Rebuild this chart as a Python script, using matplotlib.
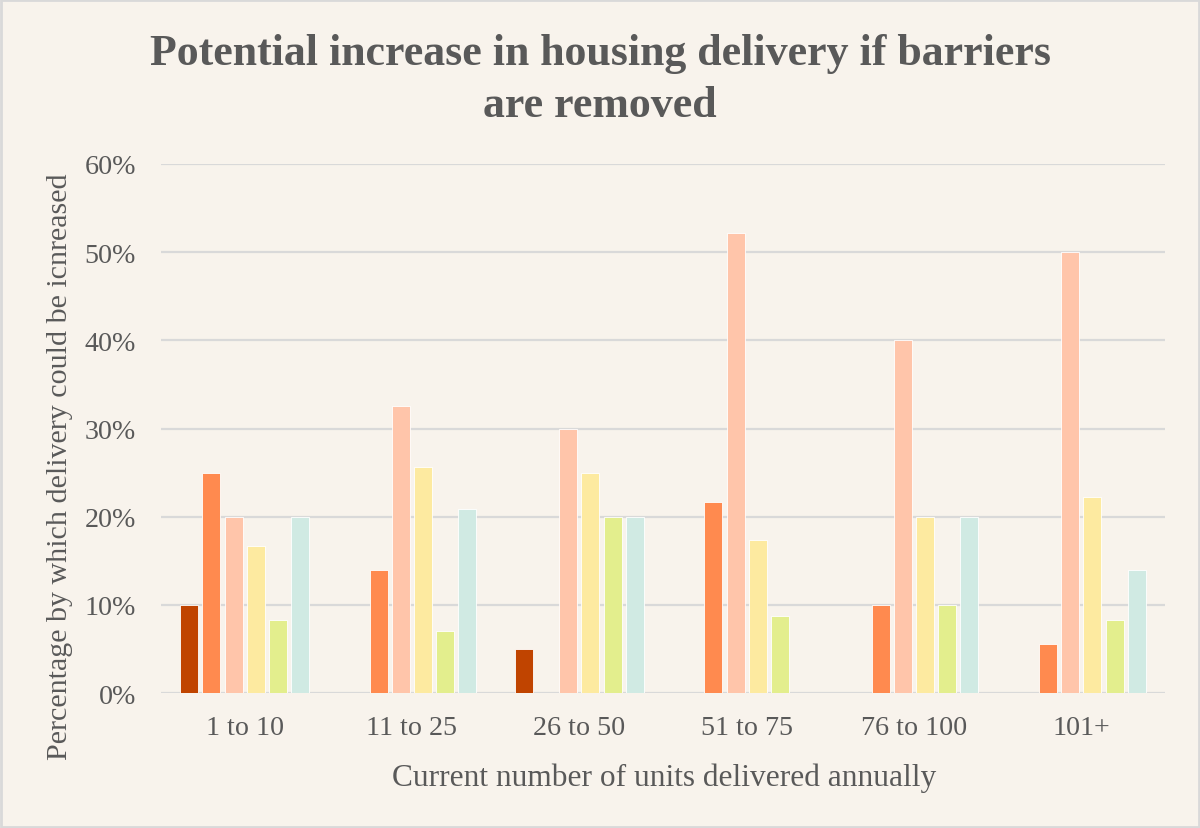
import matplotlib
matplotlib.use("Agg")
import matplotlib.pyplot as plt
import numpy as np
from matplotlib.ticker import PercentFormatter
from matplotlib.patches import Rectangle

categories = ["1 to 10", "11 to 25", "26 to 50", "51 to 75", "76 to 100", "101+"]
series_a = [0.100, 0.000, 0.050, 0.000, 0.000, 0.000]
series_b = [0.250, 0.139, 0.000, 0.217, 0.100, 0.056]
series_c = [0.200, 0.326, 0.300, 0.522, 0.400, 0.500]
series_d = [0.167, 0.256, 0.250, 0.174, 0.200, 0.222]
series_e = [0.083, 0.070, 0.200, 0.087, 0.100, 0.083]
series_f = [0.200, 0.209, 0.200, 0.000, 0.200, 0.139]
yticks = [0.0, 0.1, 0.2, 0.3, 0.4, 0.5, 0.6]

colors = ["#C04400", "#FF8A4F", "#FFC5AA", "#FDEAA0", "#E3EE8D", "#D0EAE3"]
all_series = [series_a, series_b, series_c, series_d, series_e, series_f]

bg = "#F8F3EC"
txt = "#595959"
grid = "#D9D9D9"
serif = ["Liberation Serif", "DejaVu Serif"]

fig = plt.figure(figsize=(12, 8.29), dpi=100, facecolor=bg)
ax = fig.add_axes([161/1200, 1-694/829, (1165-161)/1200, (694-165)/829])
ax.set_facecolor(bg)

x = np.arange(len(categories))
pitch = 0.1325
width = 0.108
for i, (vals, c) in enumerate(zip(all_series, colors)):
    ax.bar(x + (i - 2.5) * pitch, vals, width=width, color=c,
           edgecolor="white", linewidth=0.6, zorder=3)

ax.set_xlim(-0.5, len(categories) - 0.5)
ax.set_ylim(0, 0.6)
ax.set_yticks(yticks)
ax.yaxis.set_major_formatter(PercentFormatter(1.0, decimals=0))
ax.set_xticks(x)
ax.set_xticklabels(categories)
ax.grid(axis="y", color=grid, linewidth=1.6, zorder=0)
ax.set_axisbelow(True)
for s in ax.spines.values():
    s.set_visible(False)
ax.tick_params(axis="both", length=0, labelsize=20.2, labelcolor=txt)
ax.tick_params(axis="x", pad=16)
ax.tick_params(axis="y", pad=18)
for lab in ax.get_xticklabels() + ax.get_yticklabels():
    lab.set_family(serif)

fig.text(0.5, 1-65/829, "Potential increase in housing delivery if barriers",
         ha="center", va="baseline", fontsize=31.6, fontweight="bold",
         color=txt, family=serif)
fig.text(0.5, 1-117/829, "are removed",
         ha="center", va="baseline", fontsize=31.6, fontweight="bold",
         color=txt, family=serif)
fig.text((393+935)/2/1200, 1-778/829, "Current number of units delivered annually",
         ha="center", va="center", fontsize=22.6, color=txt, family=serif)
fig.text(60/1200, 1-467/829, "Percentage by which delivery could be icnreased",
         ha="center", va="center", rotation=90, fontsize=21.6, color=txt, family=serif)

fig.patches.append(Rectangle((0.001, 0.001), 0.998, 0.998, transform=fig.transFigure,
                             fill=False, edgecolor="#D9D9D9", linewidth=2))

fig.savefig("out.png", dpi=100, facecolor=bg)
